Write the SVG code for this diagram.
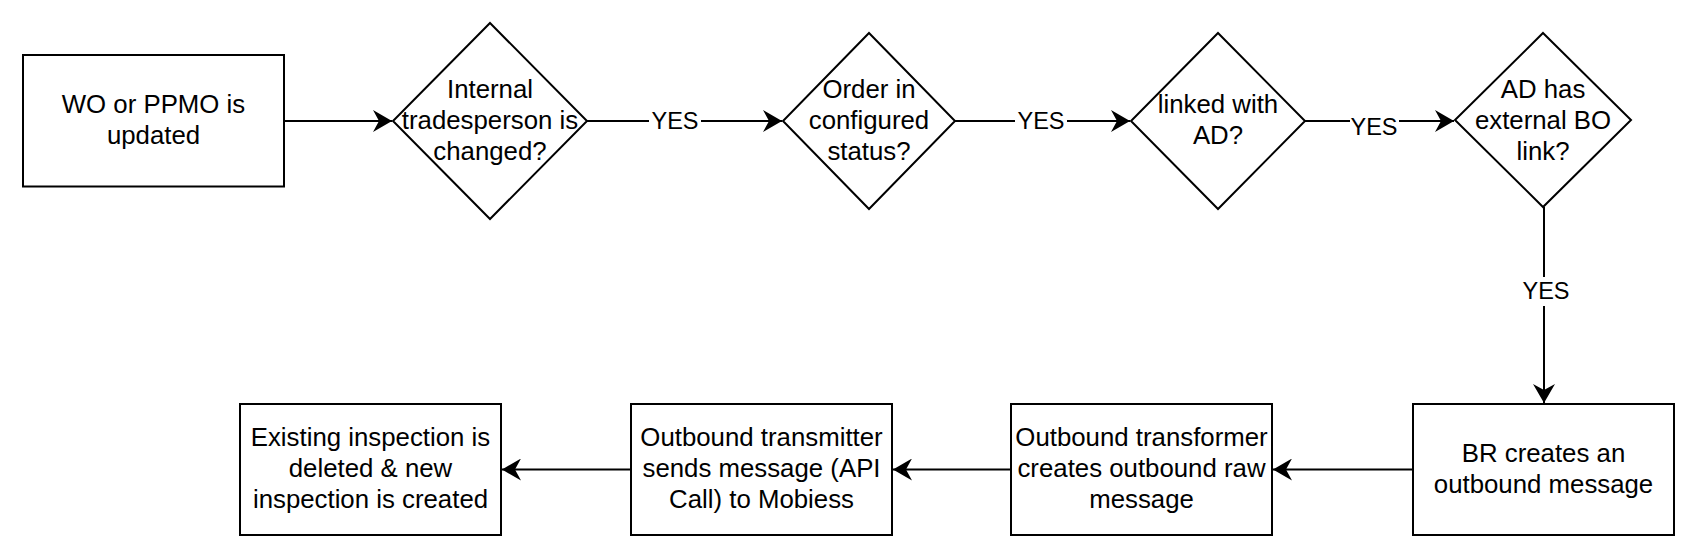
<svg xmlns="http://www.w3.org/2000/svg" width="1697" height="558" viewBox="0 0 1697 558">
<style>
.shape{fill:#ffffff;stroke:#000000;stroke-width:2}
.edge{fill:none;stroke:#000000;stroke-width:2}
.t{font-family:"Liberation Sans",Arial,sans-serif;font-size:25.8px;fill:#000000;text-anchor:middle}
.lbl{font-family:"Liberation Sans",Arial,sans-serif;font-size:23.5px;fill:#000000;text-anchor:middle}
.bg{fill:#ffffff;stroke:none}
</style>
<defs>
<marker id="arr" markerUnits="userSpaceOnUse" viewBox="0 0 20 22" markerWidth="20" markerHeight="22" refX="19" refY="11" orient="auto">
<path d="M0,0 L19,11 L0,22 L6,11 Z" fill="#000000"/>
</marker>
</defs>
<rect width="1697" height="558" fill="#ffffff"/>
<g id="connectors">
<path class="edge" d="M284,121 L392,121" marker-end="url(#arr)"/>
<path class="edge" d="M587,121 L782,121" marker-end="url(#arr)"/>
<path class="edge" d="M955,121 L1130,121" marker-end="url(#arr)"/>
<path class="edge" d="M1305,121 L1454,121" marker-end="url(#arr)"/>
<path class="edge" d="M1544,207 L1544,403" marker-end="url(#arr)"/>
<path class="edge" d="M1413,469.5 L1273,469.5" marker-end="url(#arr)"/>
<path class="edge" d="M1011,469.5 L893,469.5" marker-end="url(#arr)"/>
<path class="edge" d="M631,469.5 L502,469.5" marker-end="url(#arr)"/>
<g id="label-yes1"><rect class="bg" x="649" y="108" width="52" height="26"/><text class="lbl" x="675" y="128.5">YES</text></g>
<g id="label-yes2"><rect class="bg" x="1015" y="108" width="52" height="26"/><text class="lbl" x="1041" y="128.5">YES</text></g>
<g id="label-yes3"><rect class="bg" x="1350" y="114" width="49" height="26"/><text class="lbl" x="1374" y="135">YES</text></g>
<g id="label-yes4"><rect class="bg" x="1520" y="277" width="52" height="29"/><text class="lbl" x="1546" y="299">YES</text></g>
</g>
<g id="n-wo-updated">
<rect class="shape" x="23" y="55" width="261" height="131.5"/>
<text class="t" x="153.5" y="113.3">WO or PPMO is</text>
<text class="t" x="153.5" y="144">updated</text>
</g>
<g id="n-internal-tradesperson">
<polygon class="shape" points="490,23 587,121 490,219 393,121"/>
<text class="t" x="490" y="97.5">Internal</text>
<text class="t" x="490" y="128.5">tradesperson is</text>
<text class="t" x="490" y="159.5">changed?</text>
</g>
<g id="n-order-status">
<polygon class="shape" points="869,33 955,121 869,209 783,121"/>
<text class="t" x="869" y="97.5">Order in</text>
<text class="t" x="869" y="128.5">configured</text>
<text class="t" x="869" y="159.5">status?</text>
</g>
<g id="n-linked-ad">
<polygon class="shape" points="1218,33 1305,121 1218,209 1131,121"/>
<text class="t" x="1218" y="113.3">linked with</text>
<text class="t" x="1218" y="144">AD?</text>
</g>
<g id="n-ad-external-bo">
<polygon class="shape" points="1543,33 1631,120 1543,207 1455,120"/>
<text class="t" x="1543" y="97.5">AD has</text>
<text class="t" x="1543" y="128.5">external BO</text>
<text class="t" x="1543" y="159.5">link?</text>
</g>
<g id="n-br-creates">
<rect class="shape" x="1413" y="404" width="261" height="131"/>
<text class="t" x="1543.5" y="461.7">BR creates an</text>
<text class="t" x="1543.5" y="492.7">outbound message</text>
</g>
<g id="n-transformer">
<rect class="shape" x="1011" y="404" width="261" height="131"/>
<text class="t" x="1141.5" y="446">Outbound transformer</text>
<text class="t" x="1141.5" y="477">creates outbound raw</text>
<text class="t" x="1141.5" y="508">message</text>
</g>
<g id="n-transmitter">
<rect class="shape" x="631" y="404" width="261" height="131"/>
<text class="t" x="761.5" y="446">Outbound transmitter</text>
<text class="t" x="761.5" y="477">sends message (API</text>
<text class="t" x="761.5" y="508">Call) to Mobiess</text>
</g>
<g id="n-existing-inspection">
<rect class="shape" x="240" y="404" width="261" height="131"/>
<text class="t" x="370.5" y="446">Existing inspection is</text>
<text class="t" x="370.5" y="477">deleted &amp; new</text>
<text class="t" x="370.5" y="508">inspection is created</text>
</g>
</svg>
